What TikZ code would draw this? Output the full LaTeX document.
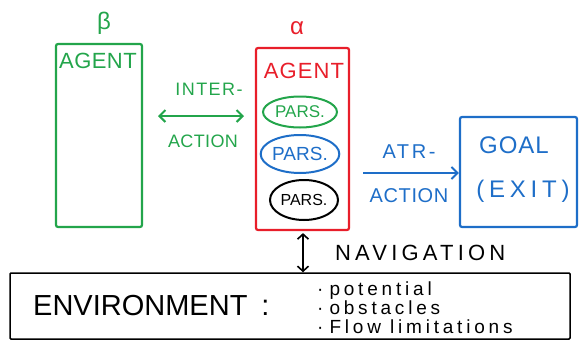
\documentclass[tikz,border=0pt]{standalone}
\usepackage{fontspec}
\setmainfont{Liberation Sans}
\usetikzlibrary{arrows.meta,shapes.geometric}
\definecolor{hgreen}{RGB}{35,165,75}
\definecolor{hred}{RGB}{232,30,42}
\definecolor{hblue}{RGB}{30,110,200}
\begin{document}
\begin{tikzpicture}[x=1pt,y=-1pt,
  box/.style={draw, line width=2.2pt, rounded corners=2pt, inner sep=0pt},
  parsel/.style={draw, ellipse, line width=2pt, inner sep=0pt},
  lbl/.style={inner sep=0pt, anchor=base},
  item/.style={inner sep=0pt, anchor=base west, font={\fontsize{19}{19}\selectfont\addfontfeatures{LetterSpace=20}}},
  barb/.style={line width=2pt, {Straight Barb[length=6pt,width=12pt]}-{Straight Barb[length=6pt,width=12pt]}},
  barbr/.style={line width=2pt, -{Straight Barb[length=6pt,width=12pt]}},
  fs/.style={font=\fontsize{#1}{#1}\selectfont}]
\useasboundingbox (0,0) rectangle (579,343);

% boxes
\node[box, hgreen, minimum width=86pt, minimum height=183pt] (gbox) at (99,135.5) {};
\node[box, hred, minimum width=93pt, minimum height=182pt] (rbox) at (302.5,139) {};
\node[box, hblue, minimum width=117pt, minimum height=110pt] (goal) at (518.5,172) {};
\node[draw, line width=1.5pt, rounded corners=1pt, minimum width=560pt, minimum height=66pt] (env) at (290,306) {};

% greek labels
\node[hgreen, fs=24] (beta) at (104,23) {β};
\node[hred, fs=24] (alpha) at (297,28) {α};

% agent labels
\node[lbl, hgreen, font={\fontsize{22}{22}\selectfont\addfontfeatures{LetterSpace=2}}] (gagent) at (98,68) {AGENT};
\node[lbl, hred, font={\fontsize{22}{22}\selectfont\addfontfeatures{LetterSpace=5}}] (ragent) at (304,78) {AGENT};

% parameter ellipses
\node[parsel, hgreen, minimum width=74pt, minimum height=31pt, font={\fontsize{17}{17}\selectfont}] (p1) at (300,112) {PARS.};
\node[parsel, hblue, minimum width=73pt, minimum height=38pt, font={\fontsize{19}{19}\selectfont}] (p2) at (300,154) {PARS.};
\node[parsel, black, minimum width=68pt, minimum height=40pt, font={\fontsize{16}{16}\selectfont}] (p3) at (304,200) {PARS.};

% interaction
\node[lbl, hgreen, font={\fontsize{18}{18}\selectfont\addfontfeatures{LetterSpace=8}}] (inter) at (209,95) {INTER-};
\node[lbl, hgreen, font={\fontsize{18}{18}\selectfont\addfontfeatures{LetterSpace=2}}] (iact) at (203,147) {ACTION};
\coordinate (ia1) at (158,116);
\coordinate (ia2) at (244,116);
\draw[hgreen, barb] (ia1) -- (ia2);

% attraction
\node[lbl, hblue, font={\fontsize{20}{20}\selectfont\addfontfeatures{LetterSpace=13}}] (atr) at (409,158) {ATR-};
\node[lbl, hblue, font={\fontsize{20}{20}\selectfont\addfontfeatures{LetterSpace=3}}] (aact) at (409,202) {ACTION};
\coordinate (aa1) at (363,173);
\draw[hblue, barbr] (aa1) -- (goal.west |- aa1);

% goal
\node[lbl, hblue, font={\fontsize{24}{24}\selectfont\addfontfeatures{LetterSpace=4}}] (goaltxt) at (514,153) {GOAL};
\node[lbl, hblue, font={\fontsize{24}{24}\selectfont\addfontfeatures{LetterSpace=20}}] (exittxt) at (523,197) {(EXIT)};

% navigation
\draw[black, line width=1.6pt, {Straight Barb[length=5pt,width=11pt]}-{Straight Barb[length=5pt,width=11pt]}] (rbox.south -| 303,0) ++(0,2) coordinate (na1) -- (env.north -| na1);
\node[lbl, anchor=base west, font={\fontsize{22}{22}\selectfont\addfontfeatures{LetterSpace=19}}] (nav) at (335,260) {NAVIGATION};

% environment
\node[lbl, anchor=base west, font={\fontsize{29}{29}\selectfont}] (envtxt) at (33,315) {ENVIRONMENT\hspace{14pt}:};
\node[item] (li1) at (317,295) {·\hspace{6pt}potential};
\node[item] (li2) at (317,314) {·\hspace{6pt}obstacles};
\node[item] (li3) at (317,333) {·\hspace{6pt}Flow limitations};
\end{tikzpicture}
\end{document}
